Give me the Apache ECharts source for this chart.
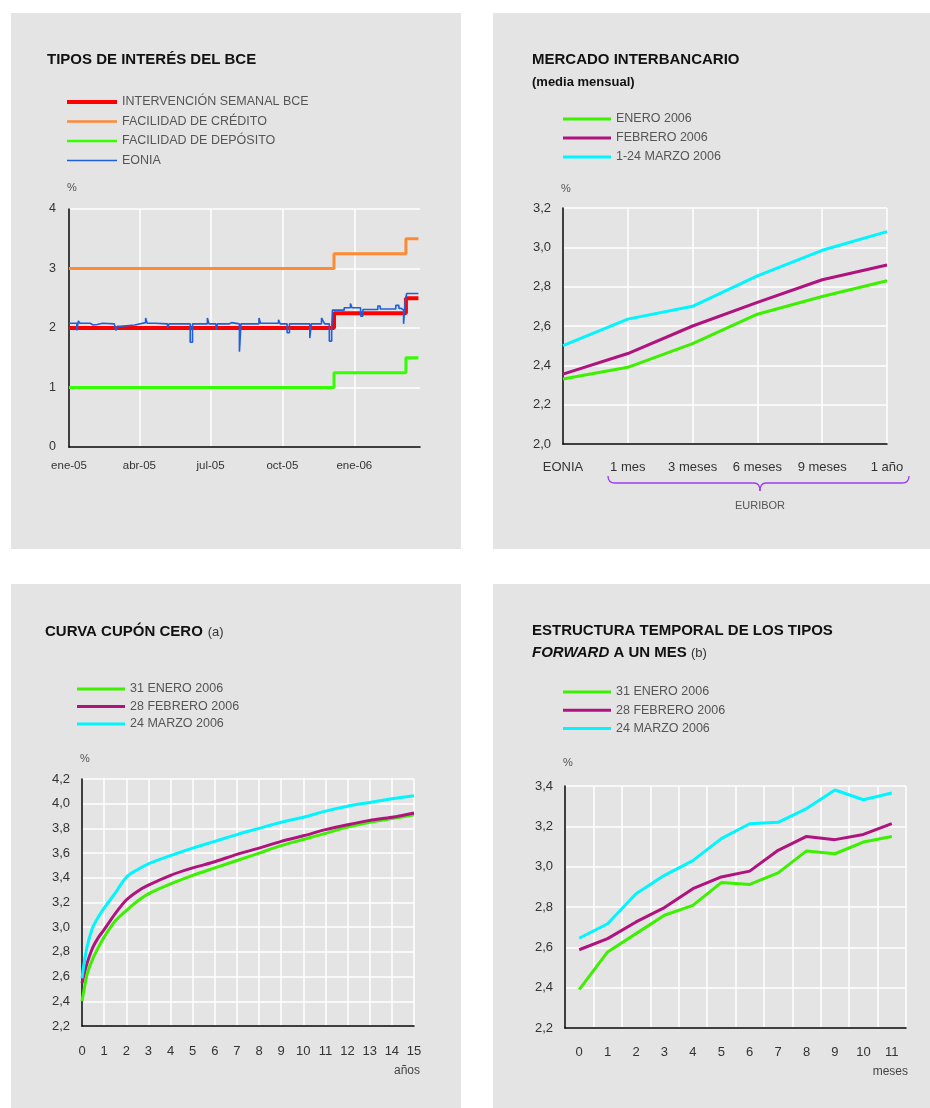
<!DOCTYPE html>
<html><head><meta charset="utf-8">
<script src="https://cdn.jsdelivr.net/npm/echarts@6/dist/echarts.min.js"></script>
<style>
html,body{margin:0;padding:0;background:#fff;width:930px;height:1108px;overflow:hidden}
.p{position:absolute;background:#e4e4e4}
</style></head><body>
<div id="c1" class="p" style="left:11px;top:13px;width:450px;height:536px"></div>
<div id="c2" class="p" style="left:493px;top:13px;width:437px;height:536px"></div>
<div id="c3" class="p" style="left:11px;top:584px;width:450px;height:524px"></div>
<div id="c4" class="p" style="left:493px;top:584px;width:437px;height:524px"></div>
<script>
// ---------- DATA ----------
// Chart 1: days since 2005-01-01
const c1TickDays = [0, 90, 181, 273, 365];
const c1TickLabels = ['ene-05', 'abr-05', 'jul-05', 'oct-05', 'ene-06'];
const c1RateDays = [0, 339, 431, 447];
const refiValues = [2.0, 2.25, 2.5, 2.5];
const creditValues = [3.0, 3.25, 3.5, 3.5];
const depositValues = [1.0, 1.25, 1.5, 1.5];
const eonia = [[0,2.08],[10,1.96],[12,2.12],[14,2.08],[27,2.05],[31,2.06],[36,2.08],[43,2.07],[58,2.05],[60,1.96],[62,2.03],[66,2.05],[84,2.08],[86,2.09],[98,2.17],[100,2.08],[110,2.05],[112,2.07],[126,2.0],[128,2.07],[155,1.76],[158,2.07],[177,2.17],[179,2.07],[188,1.97],[190,2.07],[205,2.09],[208,2.07],[218,1.60],[220,2.07],[243,2.17],[245,2.08],[268,2.14],[270,2.07],[279,1.92],[282,2.07],[308,1.83],[310,2.07],[323,2.17],[325,2.12],[327,2.07],[333,1.78],[336,2.0],[337,2.30],[352,2.34],[360,2.41],[362,2.34],[373,2.20],[376,2.31],[395,2.37],[398,2.32],[418,2.38],[422,2.33],[425,2.30],[428,2.07],[430,2.45],[432,2.58],[447,2.58]];
const c1Names = ['INTERVENCIÓN SEMANAL BCE', 'FACILIDAD DE CRÉDITO', 'FACILIDAD DE DEPÓSITO', 'EONIA'];

// Chart 2
const c2Categories = ['EONIA', '1 mes', '3 meses', '6 meses', '9 meses', '1 año'];
const c2Names = ['ENERO 2006', 'FEBRERO 2006', '1-24 MARZO 2006'];
const c2Enero = [2.33, 2.39, 2.51, 2.66, 2.75, 2.83];
const c2Febrero = [2.355, 2.46, 2.60, 2.72, 2.835, 2.91];
const c2Marzo = [2.50, 2.635, 2.70, 2.855, 2.985, 3.08];

// Chart 3
const c3Years = [0, 0.12, 0.25, 0.5, 0.75, 1, 1.5, 2, 2.5, 3, 4, 5, 6, 7, 8, 9, 10, 11, 12, 13, 14, 15];
const c3Names = ['31 ENERO 2006', '28 FEBRERO 2006', '24 MARZO 2006'];
const c3Enero = [2.40, 2.52, 2.63, 2.75, 2.84, 2.92, 3.05, 3.135, 3.21, 3.27, 3.35, 3.42, 3.48, 3.54, 3.60, 3.66, 3.71, 3.76, 3.81, 3.85, 3.88, 3.91];
const c3Febrero = [2.546, 2.64, 2.72, 2.84, 2.92, 2.98, 3.11, 3.22, 3.29, 3.34, 3.42, 3.48, 3.53, 3.59, 3.64, 3.695, 3.74, 3.79, 3.83, 3.865, 3.89, 3.925];
const c3Marzo = [2.586, 2.735, 2.857, 3.005, 3.086, 3.154, 3.276, 3.405, 3.465, 3.513, 3.58, 3.64, 3.695, 3.75, 3.80, 3.85, 3.89, 3.94, 3.98, 4.01, 4.04, 4.065];

// Chart 4
const c4Months = ['0', '1', '2', '3', '4', '5', '6', '7', '8', '9', '10', '11'];
const c4Names = ['31 ENERO 2006', '28 FEBRERO 2006', '24 MARZO 2006'];
const c4Enero = [2.39, 2.577, 2.668, 2.759, 2.808, 2.921, 2.912, 2.969, 3.078, 3.064, 3.122, 3.15];
const c4Febrero = [2.588, 2.643, 2.726, 2.797, 2.891, 2.949, 2.978, 3.081, 3.15, 3.134, 3.16, 3.213];
const c4Marzo = [2.645, 2.717, 2.866, 2.957, 3.03, 3.139, 3.213, 3.22, 3.288, 3.38, 3.332, 3.365];

// ---------- STYLE ----------
const FF = 'Liberation Sans, Arial, Helvetica, sans-serif';
const GREEN = '#3cf000', MAG = '#b0127e', CYAN = '#00f5ff';
const comma = v => v.toFixed(1).replace('.', ',');
const axisLine = {show: true, lineStyle: {color: '#000', width: 1.5}};
const split = {show: true, lineStyle: {color: '#fff', width: 1.5}};
const lab = (o) => Object.assign({color: '#333', fontSize: 12.5, fontFamily: FF}, o);
function legend(left, top, gap, data) {
  return {orient: 'vertical', left: left, top: top, padding: 0, itemWidth: 48, itemHeight: 3, itemGap: gap,
    icon: 'rect', selectedMode: false,
    textStyle: {fontSize: 12.5, color: '#555', fontFamily: FF, lineHeight: 14}, data: data};
}
function pct(gap) {
  return {name: '%', nameLocation: 'end', nameGap: gap,
    nameTextStyle: {fontSize: 11, color: '#555', fontFamily: FF, padding: [0, 0, 0, 6]}};
}
function line(name, data, color, w, extra) {
  return Object.assign({type: 'line', name: name, data: data, symbol: 'none',
    lineStyle: {color: color, width: w}, itemStyle: {color: color}, animation: false}, extra || {});
}
const zip = (xs, ys) => xs.map((x, i) => [x, ys[i]]);
const titleRich = {
  a: {fontSize: 15, fontWeight: 'bold', color: '#111', fontFamily: FF, lineHeight: 22},
  i: {fontSize: 15, fontWeight: 'bold', fontStyle: 'italic', color: '#111', fontFamily: FF, lineHeight: 22},
  b: {fontSize: 13, fontWeight: 'bold', color: '#111', fontFamily: FF, lineHeight: 22},
  n: {fontSize: 13, fontWeight: 'normal', color: '#333', fontFamily: FF, lineHeight: 22}
};

// ---------- CHART 1 ----------
const ch1 = echarts.init(document.getElementById('c1'));
ch1.setOption({
  animation: false,
  title: {text: 'TIPOS DE INTERÉS DEL BCE', left: 36, top: 37, padding: 0,
    textStyle: {fontSize: 15, fontWeight: 'bold', color: '#111', fontFamily: FF, lineHeight: 20}},
  legend: Object.assign(legend(56, 82, 5.5, [
    {name: c1Names[0], icon: 'rect'},
    {name: c1Names[1], icon: 'path://M0,0h100v5h-100z'},
    {name: c1Names[2], icon: 'path://M0,0h100v5h-100z'},
    {name: c1Names[3], icon: 'path://M0,0h100v3h-100z'}]), {itemWidth: 50, itemHeight: 4}),
  grid: {left: 58, right: 41, top: 196, bottom: 102},
  xAxis: {type: 'value', min: 0, max: 449, axisLine: axisLine,
    axisTick: {show: false, customValues: c1TickDays},
    axisLabel: lab({customValues: c1TickDays, fontSize: 11.5, margin: 13,
      formatter: v => c1TickLabels[c1TickDays.indexOf(v)] || ''}),
    splitLine: split},
  yAxis: Object.assign({type: 'value', min: 0, max: 4, interval: 1, axisLine: axisLine,
    axisTick: {show: false}, axisLabel: lab({margin: 13}), splitLine: split}, pct(16)),
  series: [
    line(c1Names[0], zip(c1RateDays, refiValues), '#ff0000', 4, {step: 'end'}),
    line(c1Names[1], zip(c1RateDays, creditValues), '#ff8a33', 3, {step: 'end'}),
    line(c1Names[2], zip(c1RateDays, depositValues), '#33ff00', 3, {step: 'end'}),
    line(c1Names[3], eonia, '#1f5fdc', 1.6, {step: 'end'})
  ]
});

// ---------- CHART 2 ----------
const BR = {stroke: '#9b3cf0', lineWidth: 1.3, fill: null};
const ch2 = echarts.init(document.getElementById('c2'));
ch2.setOption({
  animation: false,
  title: {text: '{a|MERCADO INTERBANCARIO}\n{b|(media mensual)}', left: 39, top: 36, padding: 0,
    textStyle: {rich: titleRich}},
  legend: legend(70, 99, 5, c2Names),
  grid: {left: 70, right: 43, top: 195, bottom: 105},
  xAxis: {type: 'category', data: c2Categories, boundaryGap: false, axisLine: axisLine,
    axisTick: {show: false}, axisLabel: lab({margin: 17, interval: 0, fontSize: 13}), splitLine: split},
  yAxis: Object.assign({type: 'value', min: 2.0, max: 3.2, interval: 0.2, axisLine: axisLine,
    axisTick: {show: false}, axisLabel: lab({margin: 12, formatter: comma, fontSize: 13}), splitLine: split}, pct(14)),
  graphic: [
    {type: 'bezierCurve', shape: {x1: 115, y1: 463, x2: 122, y2: 470, cpx1: 115, cpy1: 470}, style: BR},
    {type: 'line', shape: {x1: 122, y1: 470, x2: 261, y2: 470}, style: BR},
    {type: 'bezierCurve', shape: {x1: 261, y1: 470, x2: 267, y2: 478, cpx1: 267, cpy1: 470}, style: BR},
    {type: 'bezierCurve', shape: {x1: 267, y1: 478, x2: 273, y2: 470, cpx1: 267, cpy1: 470}, style: BR},
    {type: 'line', shape: {x1: 273, y1: 470, x2: 409, y2: 470}, style: BR},
    {type: 'bezierCurve', shape: {x1: 409, y1: 470, x2: 416, y2: 463, cpx1: 416, cpy1: 470}, style: BR},
    {type: 'text', x: 267, y: 487, style: {text: 'EURIBOR', fontSize: 11, fill: '#555', fontFamily: FF, align: 'center', verticalAlign: 'top'}}
  ],
  series: [
    line(c2Names[0], c2Enero, GREEN, 3),
    line(c2Names[1], c2Febrero, MAG, 3),
    line(c2Names[2], c2Marzo, CYAN, 3)
  ]
});

// ---------- CHART 3 ----------
const ch3 = echarts.init(document.getElementById('c3'));
ch3.setOption({
  animation: false,
  title: {text: '{a|CURVA CUPÓN CERO} {n|(a)}', left: 34, top: 37, padding: 0,
    textStyle: {rich: titleRich}},
  legend: legend(66, 98, 3.5, c3Names),
  grid: {left: 71, right: 47, top: 195, bottom: 82},
  xAxis: {type: 'value', min: 0, max: 15, interval: 1, axisLine: axisLine,
    axisTick: {show: false}, axisLabel: lab({margin: 19, fontSize: 13}), splitLine: split},
  yAxis: Object.assign({type: 'value', min: 2.2, max: 4.2, interval: 0.2, axisLine: axisLine,
    axisTick: {show: false}, axisLabel: lab({margin: 12, formatter: comma, fontSize: 13}), splitLine: split}, pct(15)),
  graphic: [{type: 'text', right: 41, top: 481, style: {text: 'años', fontSize: 12, fill: '#444', fontFamily: FF}}],
  series: [
    line(c3Names[0], zip(c3Years, c3Enero), GREEN, 3, {smooth: 0.3}),
    line(c3Names[1], zip(c3Years, c3Febrero), MAG, 3, {smooth: 0.3}),
    line(c3Names[2], zip(c3Years, c3Marzo), CYAN, 3, {smooth: 0.3})
  ]
});

// ---------- CHART 4 ----------
const ch4 = echarts.init(document.getElementById('c4'));
ch4.setOption({
  animation: false,
  title: {text: '{a|ESTRUCTURA TEMPORAL DE LOS TIPOS}\n{i|FORWARD}{a| A UN MES }{n|(b)}', left: 39, top: 36, padding: 0,
    textStyle: {rich: titleRich}},
  legend: legend(70, 101, 4.3, c4Names),
  grid: {left: 72, right: 24, top: 202, bottom: 80},
  xAxis: {type: 'category', data: c4Months, boundaryGap: true, axisLine: axisLine,
    axisTick: {show: false}, axisLabel: lab({margin: 18, interval: 0, fontSize: 13}), splitLine: Object.assign({interval: 0}, split)},
  yAxis: Object.assign({type: 'value', min: 2.2, max: 3.4, interval: 0.2, axisLine: axisLine,
    axisTick: {show: false}, axisLabel: lab({margin: 12, formatter: comma, fontSize: 13}), splitLine: split}, pct(18)),
  graphic: [{type: 'text', right: 22, top: 482, style: {text: 'meses', fontSize: 12, fill: '#444', fontFamily: FF}}],
  series: [
    line(c4Names[0], c4Enero, GREEN, 3),
    line(c4Names[1], c4Febrero, MAG, 3),
    line(c4Names[2], c4Marzo, CYAN, 3)
  ]
});
</script>
</body></html>
